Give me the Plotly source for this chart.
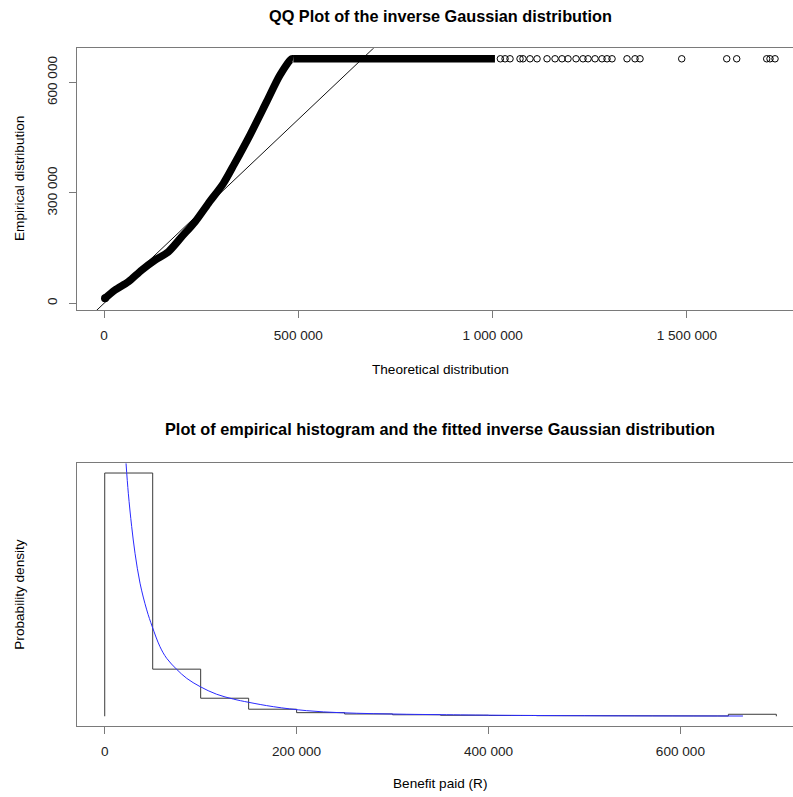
import plotly.graph_objects as go

# ---------------- data: QQ plot ----------------
# dense part of the QQ curve (theoretical quantile, empirical quantile)
qq_curve_x = [2570, 28300, 62500, 97000, 131200, 165500, 199900, 234200, 268400,
              307000, 335000, 375700, 418700, 452900, 483000, 487100]
qq_curve_y = [13600, 36100, 58600, 90400, 117600, 140100, 180800, 221500, 271500,
              325800, 378000, 457700, 548400, 620600, 664600, 664600]
# dense flat part at the capped empirical value
qq_flat_x = [487100, 1006000]
qq_flat_y = [664600, 664600]
# sparse upper-tail points (all at the capped empirical value)
qq_tail_x = [1020000, 1032000, 1044800, 1070500, 1078200, 1096200, 1114300, 1140000,
             1160600, 1178600, 1194000, 1214600, 1232600, 1245500, 1263500, 1281500,
             1294400, 1307300, 1345800, 1366400, 1379300, 1486600, 1602400, 1628100,
             1705300, 1713800, 1726700]
qq_tail_y = [664600] * len(qq_tail_x)
ref_intercept = 0
ref_slope = 1

qq_xticks = [0, 500000, 1000000, 1500000]
qq_xtick_labels = ["0", "500 000", "1 000 000", "1 500 000"]
qq_yticks = [0, 300000, 600000]
qq_ytick_labels = ["0", "300 000", "600 000"]

# ---------------- data: histogram + fitted density ----------------
bin_edges = [0, 50000, 100000, 150000, 200000, 250000, 300000, 350000, 400000,
             450000, 500000, 550000, 600000, 650000, 700000]
# density, in units of 1e-6 per R
bin_density = [14.82, 2.87, 1.10, 0.43, 0.22, 0.14, 0.092, 0.061, 0.049, 0.037,
               0.030, 0.024, 0.018, 0.122]
fit_x = [22200, 24600, 28100, 31600, 36800, 43800, 49600, 57600, 64600, 75000,
         85500, 99300, 116700, 134000, 149700, 175700, 210500, 245200, 279900,
         314700, 349400, 412000, 508900, 665200]
fit_y = [15.42, 13.59, 11.56, 9.93, 8.11, 6.48, 5.45, 4.24, 3.53, 2.86, 2.31, 1.81,
         1.34, 1.05, 0.854, 0.585, 0.341, 0.219, 0.159, 0.122, 0.098, 0.061, 0.030,
         0.015]
hist_xticks = [0, 200000, 400000, 600000]
hist_xtick_labels = ["0", "200 000", "400 000", "600 000"]

# ---------------- layout geometry ----------------
# the plot boxes run past the right edge of the 793 px window (to ~803 px)
W, H = 803, 797
FONT = "Liberation Sans, Arial, Helvetica, sans-serif"
FRAME = "#7a7a7a"

def px_x(p):
    return p / W

def px_y(p):
    return 1 - p / H

fig = go.Figure()

# QQ reference line
qx_range = [-70300, 1798700]
qy_range = [-18200, 693100]
fig.add_trace(go.Scatter(
    x=qx_range, y=[ref_intercept + ref_slope * v for v in qx_range],
    mode="lines", line=dict(color="#111111", width=1),
    xaxis="x", yaxis="y", hoverinfo="skip"))
# dense band of QQ points
fig.add_trace(go.Scatter(
    x=qq_curve_x, y=qq_curve_y, mode="lines",
    line=dict(color="black", width=7.5, shape="spline", smoothing=0.8),
    xaxis="x", yaxis="y"))
fig.add_trace(go.Scatter(
    x=qq_flat_x, y=qq_flat_y, mode="lines",
    line=dict(color="black", width=7.5),
    xaxis="x", yaxis="y"))
fig.add_trace(go.Scatter(
    x=qq_curve_x[:1], y=qq_curve_y[:1], mode="markers",
    marker=dict(color="black", size=8, symbol="circle"),
    xaxis="x", yaxis="y"))
# sparse tail points
fig.add_trace(go.Scatter(
    x=qq_tail_x, y=qq_tail_y, mode="markers",
    marker=dict(symbol="circle-open", size=6.5, color="black", line=dict(width=1)),
    xaxis="x", yaxis="y"))

# histogram outline (step line)
hx, hy = [bin_edges[0]], [0]
for i, d in enumerate(bin_density):
    hx += [bin_edges[i], bin_edges[i + 1]]
    hy += [d, d]
hx.append(bin_edges[-1])
hy.append(0)
fig.add_trace(go.Scatter(
    x=hx, y=hy, mode="lines", line=dict(color="#3a3a3a", width=1),
    xaxis="x2", yaxis="y2"))
# fitted inverse Gaussian density
fig.add_trace(go.Scatter(
    x=fit_x, y=fit_y, mode="lines", line=dict(color="#2a2aff", width=1, shape="spline"),
    xaxis="x2", yaxis="y2"))

axis_common = dict(
    showgrid=False, zeroline=False, showline=True, linecolor=FRAME, linewidth=1,
    ticks="outside", ticklen=7, tickcolor=FRAME, tickwidth=1,
    tickfont=dict(family=FONT, size=13.6, color="#222222"),
)

fig.update_layout(
    width=W, height=H, margin=dict(l=0, r=0, t=0, b=0),
    paper_bgcolor="white", plot_bgcolor="white", showlegend=False,
    xaxis=dict(domain=[px_x(76.7), 1], range=qx_range, anchor="y",
               tickvals=qq_xticks, ticktext=qq_xtick_labels, mirror=True,
               ticklabelstandoff=6, **axis_common),
    yaxis=dict(domain=[px_y(310), px_y(48.3)], range=qy_range, anchor="x",
               tickvals=qq_yticks, ticktext=qq_ytick_labels, tickangle=-90,
               ticklabelstandoff=6, **axis_common),
    xaxis2=dict(domain=[px_x(76.7), 1], range=[-29200, 727800], anchor="y2",
                tickvals=hist_xticks, ticktext=hist_xtick_labels, mirror=True,
                ticklabelstandoff=6, **axis_common),
    yaxis2=dict(domain=[px_y(726), px_y(463.3)], range=[-0.04 * bin_density[0], 1.04 * bin_density[0]],
                anchor="x2", showgrid=False, zeroline=False, showline=True,
                linecolor=FRAME, linewidth=1, ticks="", showticklabels=False),
)

def note(text, x, y, size=13.6, bold=False, angle=0):
    fig.add_annotation(
        text=f"<b>{text}</b>" if bold else text,
        x=px_x(x), y=px_y(y), xref="paper", yref="paper",
        xanchor="center", yanchor="middle", showarrow=False, textangle=angle,
        font=dict(family=FONT, size=size, color="black"))

note("QQ Plot of the inverse Gaussian distribution", 440, 15.8, size=16.3, bold=True)
note("Theoretical distribution", 440, 369.5)
note("Empirical distribution", 20, 179, angle=-90)
note("Plot of empirical histogram and the fitted inverse Gaussian distribution", 439.5, 429.2, size=16.3, bold=True)
note("Benefit paid (R)", 440, 783.3)
note("Probability density", 20, 594.7, angle=-90)

fig.write_html("out.html",
               config={"displayModeBar": False},
               post_script="document.body.style.margin='0';document.body.style.overflow='hidden';")
